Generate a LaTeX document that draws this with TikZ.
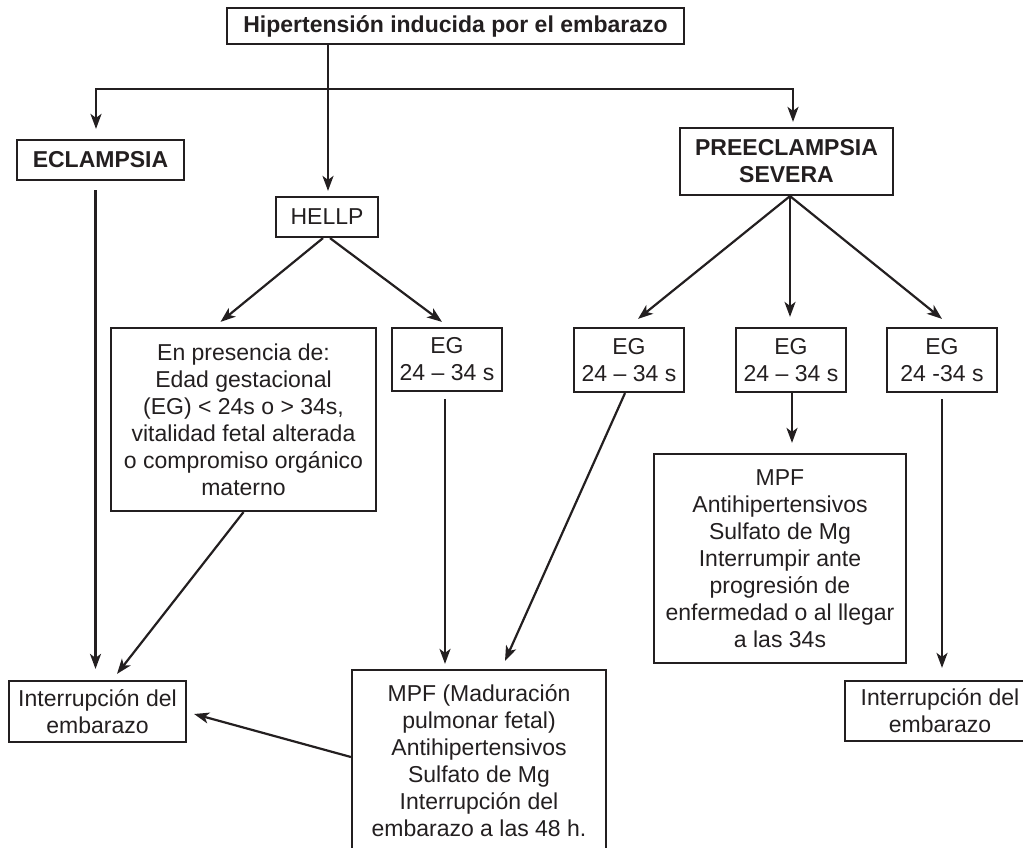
\documentclass[tikz,border=0pt]{standalone}
\usepackage{fontspec}
\setmainfont{Liberation Sans}
\usepackage{tikz}
\usetikzlibrary{arrows.meta}
\definecolor{ink}{HTML}{231F20}

\begin{document}
\begin{tikzpicture}[x=1pt, y=-1pt, line width=2.2pt, color=ink,
  box/.style={draw, align=center, inner sep=0pt, font=\fontsize{23}{27}\selectfont},
  hd/.style={box, font=\fontsize{23}{27}\selectfont\bfseries},
  arr/.style={-{Stealth[length=15pt, width=11pt, inset=4pt]}}]
\useasboundingbox (0,0) rectangle (1023,848);

\node[hd, minimum width=457pt, minimum height=36pt] (title) at (455.5,26) {Hipertensión inducida por el embarazo};
\node[hd, minimum width=167pt, minimum height=40pt] (eclampsia) at (100.5,160) {ECLAMPSIA};
\node[box, minimum width=102pt, minimum height=40pt] (hellp) at (327,217) {HELLP};
\node[hd, minimum width=213pt, minimum height=67pt] (preeclampsia) at (786.5,161.5) {PREECLAMPSIA\\SEVERA};
\node[box, minimum width=265pt, minimum height=183pt] (presencia) at (243.5,419.5) {En presencia de:\\Edad gestacional\\(EG) < 24s o > 34s,\\vitalidad fetal alterada\\o compromiso orgánico\\materno};
\node[box, minimum width=110pt, minimum height=63pt] (eg1) at (447,359.5) {EG\\24 – 34 s};
\node[box, minimum width=110pt, minimum height=64pt] (eg2) at (629,360) {EG\\24 – 34 s};
\node[box, minimum width=110pt, minimum height=64pt] (eg3) at (791,360) {EG\\24 – 34 s};
\node[box, minimum width=110pt, minimum height=64pt] (eg4) at (942,360) {EG\\24 -34 s};
\node[box, minimum width=252pt, minimum height=209pt] (mpf2) at (780,558.5) {MPF\\Antihipertensivos\\Sulfato de Mg\\Interrumpir ante\\progresión de\\enfermedad o al llegar\\a las 34s};
\node[box, minimum width=177pt, minimum height=61pt] (intL) at (97.5,711.5) {Interrupción del\\embarazo};
\node[box, minimum width=190pt, minimum height=60pt] (intR) at (940,711) {Interrupción del\\embarazo};
\node[box, minimum width=254pt, minimum height=181pt] (mpf) at (479,760.5) {MPF (Maduración\\pulmonar fetal)\\Antihipertensivos\\Sulfato de Mg\\Interrupción del\\embarazo a las 48 h.};

\coordinate (split) at (328,89);
\draw (title.south -| split) -- (split);
\draw[arr, shorten >=10pt] (split) -| ([xshift=-4.5pt]eclampsia.north);
\draw[arr, shorten >=5pt] (split) -| ([xshift=6.5pt]preeclampsia.north);
\draw[arr, shorten >=5pt] (split) -- (split |- hellp.north);

\draw[arr, shorten <=9pt, shorten >=11pt] ([xshift=-5pt]eclampsia.south) -- ([xshift=-5pt]eclampsia.south |- intL.north);
\draw[arr] ([xshift=-4pt]hellp.south) -- ([shift={(-23pt,5pt)}]presencia.north);
\draw[arr] ([xshift=3pt]hellp.south) -- ([shift={(-5pt,5pt)}]eg1.north);
\draw[arr] (presencia.south) -- ([shift={(19.5pt,6pt)}]intL.north);
\draw[arr, shorten <=7pt, shorten >=5pt] ([xshift=-2pt]eg1.south) -- ([xshift=-2pt]eg1.south |- mpf.north);

\draw[arr] ([xshift=3.5pt]preeclampsia.south) -- ([shift={(9pt,8pt)}]eg2.north);
\draw[arr, shorten >=10pt] ([xshift=3.5pt]preeclampsia.south) -- ([xshift=3.5pt]preeclampsia.south |- eg3.north);
\draw[arr] ([xshift=3.5pt]preeclampsia.south) -- ([shift={(0pt,8pt)}]eg4.north);
\draw[arr] ([xshift=-4pt]eg2.south) -- ([shift={(26pt,8pt)}]mpf.north);
\draw[arr, shorten >=10pt] ([xshift=1pt]eg3.south) -- ([xshift=1pt]eg3.south |- mpf2.north);
\draw[arr, shorten <=6pt, shorten >=12pt] (eg4.south) -- (eg4.south |- intR.north);
\draw[arr] ([yshift=3.5pt]mpf.west) -- ([shift={(7pt,-2.5pt)}]intL.east);
\end{tikzpicture}
\end{document}
